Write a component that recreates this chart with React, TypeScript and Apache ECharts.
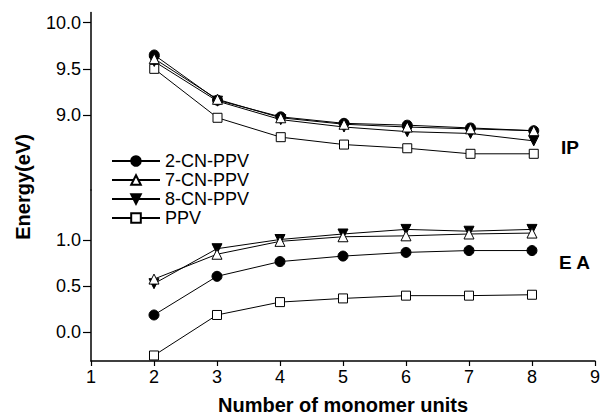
import React, { useEffect, useRef } from "react";
import * as echarts from "echarts";

// Oligomer length (number of monomer units)
const units = [2, 3, 4, 5, 6, 7, 8];

// Ionization potentials (eV)
const ip2CN = [9.65, 9.16, 8.98, 8.91, 8.89, 8.86, 8.83];
const ip7CN = [9.61, 9.17, 8.97, 8.9, 8.87, 8.85, 8.83];
const ip8CN = [9.58, 9.15, 8.95, 8.87, 8.82, 8.8, 8.72];
const ipPPV = [9.5, 8.97, 8.76, 8.68, 8.64, 8.58, 8.58];

// Electron affinities (eV)
const ea2CN = [0.19, 0.61, 0.77, 0.83, 0.87, 0.89, 0.89];
const ea7CN = [0.58, 0.85, 0.99, 1.04, 1.05, 1.07, 1.08];
const ea8CN = [0.53, 0.91, 1.01, 1.07, 1.12, 1.1, 1.12];
const eaPPV = [-0.25, 0.19, 0.33, 0.37, 0.4, 0.4, 0.41];

const seriesNames = ["2-CN-PPV", "7-CN-PPV", "8-CN-PPV", "PPV"];
const upperTicks = [9.0, 9.5, 10.0];
const lowerTicks = [0.0, 0.5, 1.0];
const xTicks = [1, 2, 3, 4, 5, 6, 7, 8, 9];

const FONT = "'Liberation Sans', Arial, Helvetica, sans-serif";

const pairs = (ys: number[]) => units.map((u, i) => [u, ys[i]]);

type Style = { symbol: string; rotate: number; fill: string; size: number };
const styles: Record<string, Style> = {
  "2-CN-PPV": { symbol: "circle", rotate: 0, fill: "#000", size: 10 },
  "7-CN-PPV": { symbol: "triangle", rotate: 0, fill: "#fff", size: 10 },
  "8-CN-PPV": { symbol: "triangle", rotate: 180, fill: "#000", size: 10 },
  PPV: { symbol: "rect", rotate: 0, fill: "#fff", size: 9 },
};

function makeSeries(name: string, ys: number[], grid: number) {
  const s = styles[name];
  return {
    type: "line",
    name,
    xAxisIndex: grid,
    yAxisIndex: grid,
    data: pairs(ys),
    symbol: s.symbol,
    symbolRotate: s.rotate,
    symbolSize: s.size,
    showAllSymbol: true,
    lineStyle: { color: "#000", width: 1 },
    itemStyle: { color: s.fill, borderColor: "#000", borderWidth: 1, opacity: 1 },
    emphasis: { disabled: true },
  };
}

const yAxisBase = (grid: number, min: number, max: number, ticks: number[]) => ({
  type: "value",
  gridIndex: grid,
  min,
  max,
  splitLine: { show: false },
  axisLine: { show: true, onZero: false, lineStyle: { color: "#000", width: 1.5 } },
  axisTick: { show: true, length: 8, customValues: ticks, lineStyle: { color: "#000", width: 1.2 } },
  axisLabel: {
    customValues: ticks,
    margin: 10,
    color: "#000",
    fontSize: 18,
    fontFamily: FONT,
    formatter: (v: number) => v.toFixed(1),
  },
});

export default function App() {
  const ref = useRef<HTMLDivElement>(null);

  useEffect(() => {
    if (!ref.current) return;
    const chart = echarts.init(ref.current, undefined, { renderer: "svg" });
    chart.setOption({
      animation: false,
      backgroundColor: "#fff",
      grid: [
        { left: 91, right: 6, top: 12.5, height: 177.5 },
        { left: 91, right: 6, top: 190, bottom: 53.5 },
      ],
      xAxis: [
        { type: "value", gridIndex: 0, min: 1, max: 9, show: false },
        {
          type: "value",
          gridIndex: 1,
          min: 1,
          max: 9,
          interval: 1,
          splitLine: { show: false },
          axisLine: { show: true, onZero: false, lineStyle: { color: "#000", width: 1.5 } },
          axisTick: { show: true, length: 5, lineStyle: { color: "#000", width: 1.2 } },
          axisLabel: {
            margin: 7,
            color: "#000",
            fontSize: 18,
            fontFamily: FONT,
            customValues: xTicks,
          },
          name: "Number of monomer units",
          nameLocation: "middle",
          nameGap: 34,
          nameTextStyle: { color: "#000", fontSize: 20, fontWeight: "bold", fontFamily: FONT },
        },
      ],
      yAxis: [
        yAxisBase(0, 8.188, 10.11, upperTicks),
        yAxisBase(1, -0.31, 1.548, lowerTicks),
      ],
      legend: {
        data: seriesNames,
        orient: "vertical",
        left: 106,
        top: 147,
        itemWidth: 48,
        itemHeight: 12,
        itemGap: 1,
        selectedMode: false,
        textStyle: { color: "#000", fontSize: 18, lineHeight: 18, fontFamily: FONT },
      },
      graphic: [
        {
          type: "text",
          x: 23,
          y: 187,
          rotation: Math.PI / 2,
          style: {
            text: "Energy(eV)",
            fontSize: 20,
            fontWeight: "bold",
            fontFamily: FONT,
            fill: "#000",
            align: "center",
            verticalAlign: "middle",
          },
        },
        {
          type: "text",
          x: 561,
          y: 147,
          style: {
            text: "IP",
            fontSize: 19,
            fontWeight: "bold",
            fontFamily: FONT,
            fill: "#000",
            verticalAlign: "middle",
          },
        },
        {
          type: "text",
          x: 559,
          y: 262,
          style: {
            text: "E A",
            fontSize: 19,
            fontWeight: "bold",
            fontFamily: FONT,
            fill: "#000",
            verticalAlign: "middle",
          },
        },
      ],
      series: [
        makeSeries("PPV", ipPPV, 0),
        makeSeries("2-CN-PPV", ip2CN, 0),
        makeSeries("8-CN-PPV", ip8CN, 0),
        makeSeries("7-CN-PPV", ip7CN, 0),
        makeSeries("PPV", eaPPV, 1),
        makeSeries("2-CN-PPV", ea2CN, 1),
        makeSeries("8-CN-PPV", ea8CN, 1),
        makeSeries("7-CN-PPV", ea7CN, 1),
      ],
    });
    return () => chart.dispose();
  }, []);

  return <div ref={ref} style={{ width: 603, height: 416, position: "absolute", left: 0, top: 0 }} />;
}
